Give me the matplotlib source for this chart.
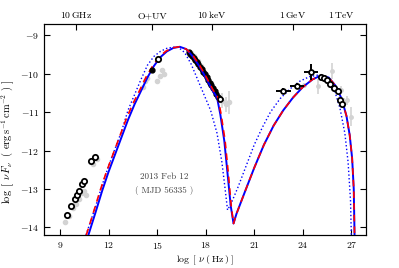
import matplotlib
matplotlib.use("Agg")
import matplotlib.pyplot as plt
import numpy as np

plt.rcParams['font.family'] = 'serif'
plt.rcParams['font.serif'] = ['cmr10', 'DejaVu Serif']
plt.rcParams['mathtext.fontset'] = 'cm'
plt.rcParams['axes.formatter.use_mathtext'] = True
plt.rcParams['font.size'] = 7

# model curves (log nu, log nuFnu)
model_x = [10.75, 11.2, 11.6, 12.0, 12.4, 12.8, 13.2, 13.6, 14.0, 14.4, 14.8, 15.2,
           15.6, 16.0, 16.4, 16.8, 17.2, 17.6, 18.0, 18.4, 18.7, 18.9, 19.15, 19.35,
           19.55, 19.72, 19.9, 20.4, 21.0, 21.6, 22.2, 22.8, 23.4, 24.0, 24.6, 25.1,
           25.6, 26.0, 26.4, 26.7, 26.9, 27.05, 27.15, 27.2]
model_y = [-14.2, -13.6, -13.05, -12.55, -12.1, -11.65, -11.2, -10.8, -10.45, -10.1,
           -9.8, -9.57, -9.42, -9.33, -9.30, -9.36, -9.55, -9.80, -10.1, -10.42,
           -10.62, -11.05, -11.75, -12.6, -13.45, -13.9, -13.65, -13.1, -12.45, -11.85,
           -11.35, -10.95, -10.62, -10.35, -10.15, -10.05, -10.1, -10.3, -10.65, -11.1,
           -11.6, -12.2, -13.0, -14.2]

alt_x = [10.62, 11.07, 11.47, 11.87, 12.27, 12.67, 13.07, 13.48, 13.9, 14.3, 14.72, 15.12,
         15.52, 15.92, 16.35, 16.8, 17.25, 17.65, 18.05, 18.45, 18.75, 18.95, 19.2, 19.4,
         19.58, 19.72, 19.9, 20.4, 21.0, 21.6, 22.2, 22.8, 23.4, 24.0, 24.6, 25.1,
         25.6, 26.0, 26.4, 26.7, 26.9, 27.05, 27.15, 27.2]
alt_y = model_y

dot_x = [10.6, 11.2, 11.6, 12.0, 12.4, 12.8, 13.2, 13.6, 14.0, 14.4, 14.8, 15.2,
         15.6, 16.0, 16.3, 16.7, 17.1, 17.5, 17.9, 18.3, 18.7, 19.0, 19.2, 19.35,
         19.6, 20.0, 20.5, 21.0, 21.5, 22.0, 22.6, 23.2, 23.8, 24.4, 24.9, 25.4,
         25.9, 26.3, 26.6, 26.8, 26.95, 27.0]
dot_y = [-14.2, -13.45, -12.9, -12.4, -11.95, -11.5, -10.95, -10.55, -10.15, -9.78,
         -9.55, -9.42, -9.34, -9.31, -9.31, -9.45, -9.75, -10.15, -10.55, -10.95,
         -11.55, -12.3, -13.0, -13.55, -13.35, -12.95, -12.4, -11.85, -11.4, -11.0,
         -10.65, -10.4, -10.2, -10.08, -10.04, -10.12, -10.35, -10.9, -11.55, -12.3,
         -13.3, -14.2]

# observed data (black), archival (gray)
radio_x = [9.4, 9.67, 9.93, 10.03, 10.18, 10.36, 10.5, 10.92, 11.15]
radio_y = [-13.67, -13.44, -13.25, -13.17, -13.05, -12.88, -12.79, -12.27, -12.17]
radio_gray_x = [9.3, 9.55, 9.8, 10.0, 10.2, 10.35, 10.5, 10.6, 11.05, 11.3]
radio_gray_y = [-13.87, -13.7, -13.5, -13.4, -13.25, -13.1, -13.05, -13.15, -12.35, -12.22]

opt_x = [14.67, 15.05]
opt_y = [-9.9, -9.62]
opt_gray_x = [14.1, 14.25, 14.4, 15.0, 15.15, 15.3, 15.4]
opt_gray_y = [-10.35, -10.2, -10.1, -10.2, -10.05, -9.9, -10.0]

xray_x = [16.95, 17.05, 17.15, 17.25, 17.35, 17.45, 17.55, 17.65, 17.75, 17.85,
          17.95, 18.05, 18.15, 18.25, 18.35, 18.45, 18.55, 18.65, 18.75, 18.9]
xray_y = [-9.43, -9.48, -9.53, -9.58, -9.64, -9.70, -9.76, -9.82, -9.89, -9.96,
          -10.02, -10.09, -10.16, -10.23, -10.30, -10.38, -10.46, -10.54, -10.62, -10.65]
xray_gray_x = [17.1, 17.3, 17.5, 17.7, 17.9, 18.1, 18.3, 18.5, 18.7, 19.0, 19.25, 19.45]
xray_gray_y = [-9.45, -9.55, -9.68, -9.8, -9.95, -10.1, -10.25, -10.42, -10.55, -10.7, -10.8, -10.74]
xray_gray_err = [0.05, 0.05, 0.05, 0.05, 0.05, 0.06, 0.06, 0.08, 0.1, 0.2, 0.2, 0.3]

fermi_x = [22.8, 23.65, 24.52]
fermi_y = [-10.45, -10.31, -9.96]
fermi_xerr = [0.45, 0.45, 0.42]
fermi_yerr = [0.08, 0.08, 0.2]

vhe_x = [25.15, 25.3, 25.47, 25.7, 25.95, 26.15, 26.28, 26.42]
vhe_y = [-10.09, -10.12, -10.17, -10.26, -10.38, -10.45, -10.68, -10.79]
vhe_gray_x = [24.1, 24.95, 25.8, 26.36, 26.52, 26.73, 26.95]
vhe_gray_y = [-10.3, -10.33, -9.93, -10.43, -10.74, -10.69, -11.12]
vhe_gray_err = [0.05, 0.2, 0.22, 0.1, 0.1, 0.12, 0.25]

top_ticks = [10.0, 14.7, 18.38, 23.38, 26.38]
top_labels = ['10$\\,$GHz', 'O+UV', '10$\\,$keV', '1$\\,$GeV', '1$\\,$TeV']

fig = plt.figure(figsize=(3.99, 2.68), dpi=100)
ax = fig.add_axes([0.110, 0.123, 0.807, 0.787])

gray = '#d3d3d3'
ax.errorbar(radio_gray_x, radio_gray_y, fmt='o', color=gray, ms=3, mec=gray, zorder=1)
ax.errorbar(opt_gray_x, opt_gray_y, fmt='o', color=gray, ms=3, zorder=1)
ax.errorbar(xray_gray_x, xray_gray_y, yerr=xray_gray_err, fmt='o', color=gray, ms=3,
            elinewidth=1.2, zorder=1)
ax.errorbar(vhe_gray_x, vhe_gray_y, yerr=vhe_gray_err, fmt='o', color=gray, ms=2.5,
            elinewidth=1.2, zorder=1)

ax.plot(dot_x, dot_y, ':', color='blue', lw=1.0, zorder=3)
ax.plot(model_x, model_y, '-', color='blue', lw=1.4, zorder=4)
ax.plot(alt_x, alt_y, '--', color='red', lw=1.2, dashes=(4, 3), zorder=5)

ax.plot(radio_x, radio_y, 'o', mfc='white', mec='black', mew=1.3, ms=3.8, zorder=6)
ax.plot(opt_x[0], opt_y[0], 'o', color='black', ms=3.5, zorder=6)
ax.plot(opt_x[1], opt_y[1], 'o', mfc='white', mec='black', mew=1.3, ms=3.8, zorder=6)
ax.plot(xray_x, xray_y, 'o', color='black', ms=3.5, zorder=2)
ax.plot(xray_x[-1], xray_y[-1], 'o', mfc='white', mec='black', mew=1.2, ms=3.5, zorder=6)
ax.errorbar(fermi_x, fermi_y, xerr=fermi_xerr, yerr=fermi_yerr, fmt='o', mfc='white',
            mec='black', ecolor='black', mew=1.3, ms=3.5, elinewidth=1.4, capsize=0, zorder=6)
ax.plot(vhe_x, vhe_y, 'o', mfc='white', mec='black', mew=1.3, ms=3.8, zorder=6)

ax.text(15.43, -12.69, '2013 Feb 12', ha='center', va='center', color='#444444', fontsize=6.5)
ax.text(15.43, -13.04, '( MJD 56335 )', ha='center', va='center', color='#444444', fontsize=6.5)

ax.set_xlim(8.0, 27.9)
ax.set_ylim(-14.2, -8.71)
ax.set_xticks([9, 12, 15, 18, 21, 24, 27])
ax.set_yticks([-14, -13, -12, -11, -10, -9])
ax.tick_params(direction='in', top=False, right=True, length=4, width=0.8)
ax.set_xlabel(r'$\log\ [\ \nu\ (\,{\rm Hz}\,)\ ]$', labelpad=2)
ax.set_ylabel(r'$\log\ \left[\ \nu\,F_\nu\ \ (\ {\rm erg\,s^{-1}\,cm^{-2}}\ )\ \right]$',
              fontsize=7.5)
ax.yaxis.set_label_coords(-0.082, 0.44)

ax2 = ax.twiny()
ax2.set_xlim(ax.get_xlim())
ax2.set_xticks(top_ticks)
ax2.set_xticklabels(top_labels)
ax2.tick_params(direction='in', length=4, width=0.8, pad=3)

fig.savefig('out.png', dpi=100)
